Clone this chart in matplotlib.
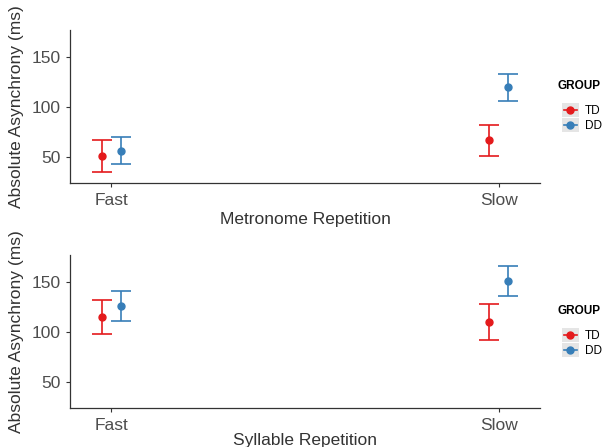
import matplotlib
matplotlib.use("Agg")
import matplotlib.pyplot as plt
from matplotlib.lines import Line2D
from matplotlib.patches import Rectangle

plt.rcParams['font.family'] = ['Liberation Sans', 'DejaVu Sans']

categories = ['Fast', 'Slow']
groups = ['TD', 'DD']
colors = {'TD': '#E41A1C', 'DD': '#377EB8'}

# metronome repetition: mean, lower, upper
metro_mean = {'TD': [51, 67], 'DD': [56, 120]}
metro_low = {'TD': [35, 51], 'DD': [43, 106]}
metro_high = {'TD': [67, 82], 'DD': [70, 133]}

# syllable repetition
syll_mean = {'TD': [115, 110], 'DD': [126, 151]}
syll_low = {'TD': [98, 92], 'DD': [111, 136]}
syll_high = {'TD': [132, 128], 'DD': [141, 166]}

dodge = {'TD': -0.0245, 'DD': 0.0245}
text_grey = '#4D4D4D'


class KeyHandler:
    # ggplot style key: grey square with a line and a dot
    def legend_artist(self, legend, orig_handle, fontsize, handlebox):
        x0, y0 = -handlebox.xdescent, -handlebox.ydescent
        w, h = handlebox.width, handlebox.height
        tr = handlebox.get_transform()
        bg = Rectangle((x0, y0), w, h, facecolor='#E5E5E5', edgecolor='none',
                       transform=tr)
        ln = Line2D([x0 + 0.1 * w, x0 + 0.9 * w], [y0 + h / 2, y0 + h / 2],
                    color=orig_handle.get_color(), lw=1.2, transform=tr)
        pt = Line2D([x0 + w / 2], [y0 + h / 2], marker='o', ms=5,
                    color=orig_handle.get_color(), lw=0, transform=tr)
        handlebox.add_artist(bg)
        handlebox.add_artist(ln)
        handlebox.add_artist(pt)
        return bg


fig = plt.figure(figsize=(6.11, 4.47), dpi=100)
ax_top = fig.add_axes([70/611, 1-183/447, 470/611, 153/447])
ax_bot = fig.add_axes([70/611, 1-408/447, 470/611, 153/447])


def panel(ax, mean, low, high, xlabel, legend_y, xpad):
    for g in groups:
        xs = [i + 1 + dodge[g] for i in range(len(categories))]
        yerr = [[m - l for m, l in zip(mean[g], low[g])],
                [h - m for m, h in zip(mean[g], high[g])]]
        ax.errorbar(xs, mean[g], yerr=yerr, fmt='o', color=colors[g],
                    ms=5, elinewidth=1.2, capsize=7, capthick=1.2)
    ax.set_xlim(0.894, 2.106)
    ax.set_ylim(23.5, 177)
    ax.set_xticks([1, 2])
    ax.set_xticklabels(categories)
    ax.set_yticks([50, 100, 150])
    for s in ['top', 'right']:
        ax.spines[s].set_visible(False)
    for s in ['left', 'bottom']:
        ax.spines[s].set_color('#333333')
        ax.spines[s].set_linewidth(0.9)
    ax.tick_params(labelsize=12.5, colors='#333333', labelcolor=text_grey,
                   length=3, width=0.8, pad=4)
    ax.set_xlabel(xlabel, fontsize=12.5, color='#333333', labelpad=xpad)
    ax.set_ylabel('Absolute Asynchrony (ms)', fontsize=12.5, color='#333333',
                  labelpad=5)

    # legend title drawn separately to get the ggplot gap under it
    fig.text(557/611, 1 - legend_y/447, 'GROUP', fontsize=8.5,
             fontweight='bold', va='center', ha='left')
    handles = [Line2D([], [], color=colors[g]) for g in groups]
    fig.legend(handles, groups, loc='upper left',
               bbox_to_anchor=(556/611, 1 - (legend_y + 11)/447), frameon=False,
               handler_map={Line2D: KeyHandler()},
               handlelength=1.45, handleheight=1.45, handletextpad=0.5,
               labelspacing=0.1, borderpad=0, fontsize=8.5)


panel(ax_top, metro_mean, metro_low, metro_high, 'Metronome Repetition', 86, 3)
panel(ax_bot, syll_mean, syll_low, syll_high, 'Syllable Repetition', 311, 0.5)

fig.savefig('out.png', dpi=100)
